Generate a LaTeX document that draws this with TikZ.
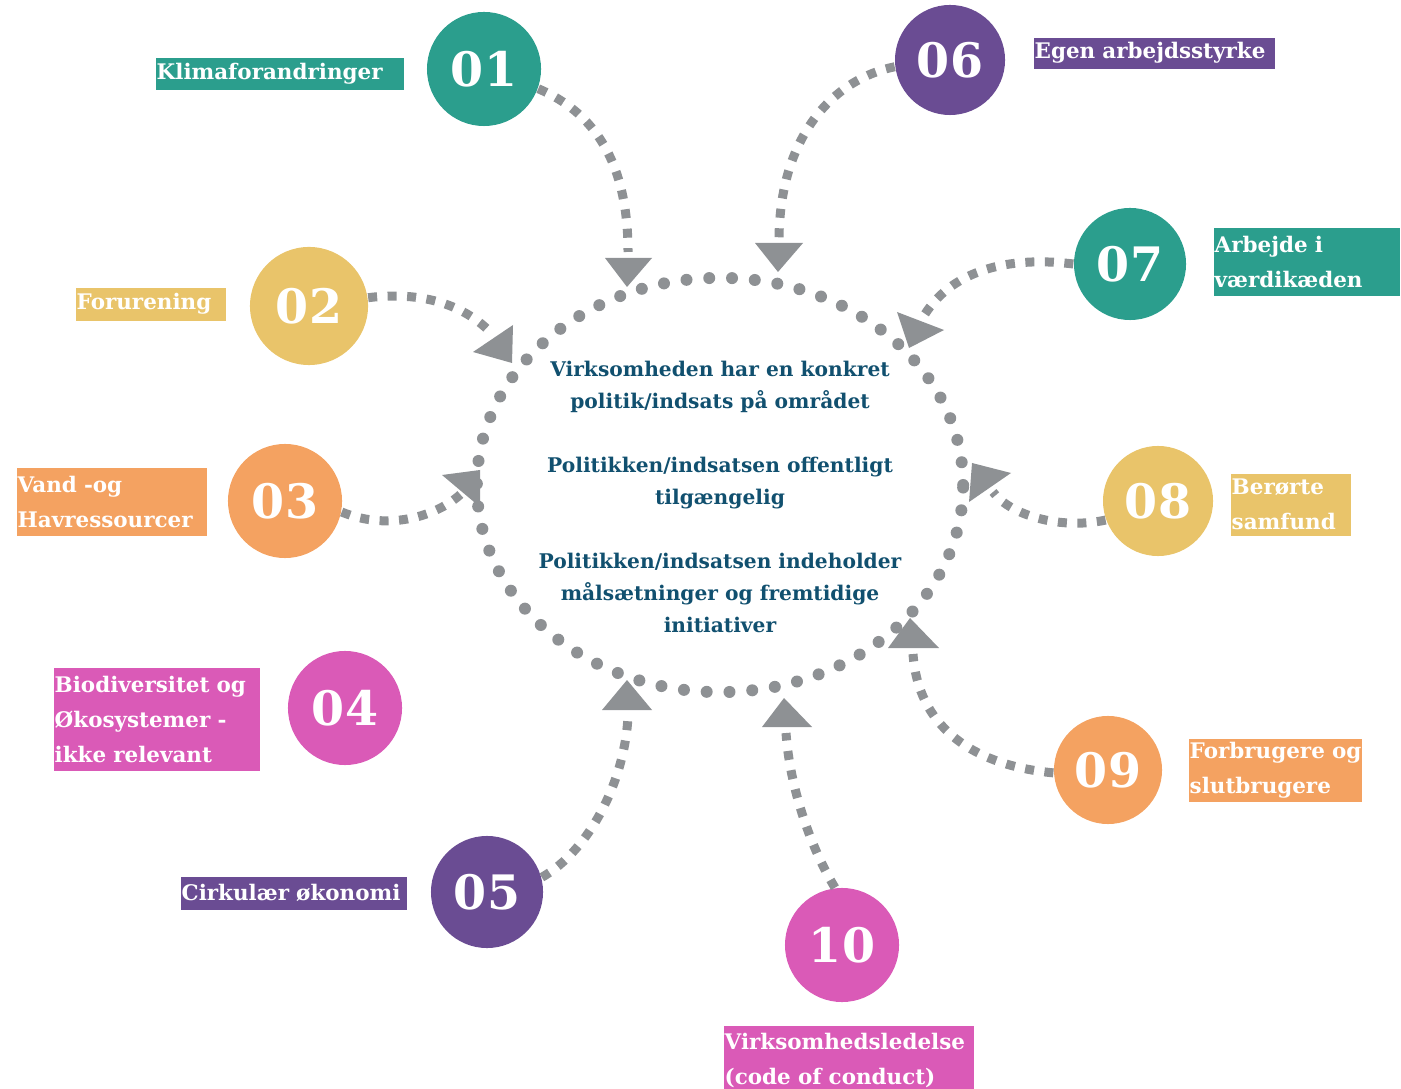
\documentclass[tikz,border=0pt]{standalone}
\usepackage{fontspec}
\setmainfont{DejaVu Serif}
\usetikzlibrary{shapes.geometric}
\definecolor{cteal}{HTML}{2B9E8D}
\definecolor{cyellow}{HTML}{E9C46A}
\definecolor{corange}{HTML}{F4A261}
\definecolor{cpink}{HTML}{DA5AB7}
\definecolor{cpurple}{HTML}{6A4C93}
\definecolor{cgray}{HTML}{8E9194}
\definecolor{cblue}{HTML}{11506F}
\newcommand\lblfont{\fontsize{6.1}{9.9}\selectfont\bfseries}
\newcommand\ctrfont{\fontsize{5.75}{9.1}\selectfont\bfseries}
\newcommand\numfont{\fontsize{13.5}{15}\selectfont\bfseries}
\begin{document}
\begin{tikzpicture}[x=0.01cm,y=-0.01cm,
  num/.style={circle, fill=#1, text=white, inner sep=0pt, font=\numfont},
  lbl/.style={fill=#1, text=white, anchor=north west, align=left, inner xsep=0.01cm, inner ysep=0pt, font=\lblfont},
  conn/.style={draw=cgray, line width=0.09cm, dash pattern=on 0.09cm off 0.105cm},
  tipfill/.style={fill=cgray},
  ringdots/.style={draw=cgray, line width=0.12cm, dash pattern=on 0pt off 0.228cm, line cap=round}]
\useasboundingbox (0,0) rectangle (1401,1089);

% central ring and text
\node[ellipse, ringdots, minimum width=4.86cm, minimum height=4.14cm, inner sep=0pt] (ring) at (720,485) {};
\node[text=cblue, align=center, font=\ctrfont] (ct) at (720,497) {Virksomheden har en konkret\\politik/indsats på området\\[9.1pt]Politikken/indsatsen offentligt\\tilgængelig\\[9.1pt]Politikken/indsatsen indeholder\\målsætninger og fremtidige\\initiativer};

% numbered circles
\node[num=cteal, minimum size=1.14cm] (c1) at (484,69) {01};
\node[num=cyellow, minimum size=1.18cm] (c2) at (309,306) {02};
\node[num=corange, minimum size=1.14cm] (c3) at (285,501) {03};
\node[num=cpink, minimum size=1.14cm] (c4) at (345,708) {04};
\node[num=cpurple, minimum size=1.12cm] (c5) at (487,892) {05};
\node[num=cpurple, minimum size=1.10cm] (c6) at (950,60) {06};
\node[num=cteal, minimum size=1.12cm] (c7) at (1130,264) {07};
\node[num=cyellow, minimum size=1.10cm] (c8) at (1158,501) {08};
\node[num=corange, minimum size=1.08cm] (c9) at (1108,770) {09};
\node[num=cpink, minimum size=1.14cm] (c10) at (842,945) {10};

% labels
\node[lbl=cteal, text width=2.46cm, minimum height=0.32cm] (l1) at (155,57) {\mbox{Klimaforandringer}};
\node[lbl=cyellow, text width=1.48cm, minimum height=0.33cm] (l2) at (75,287) {\mbox{Forurening}};
\node[lbl=corange, text width=1.88cm, minimum height=0.68cm] (l3) at (16,467) {\mbox{Vand -og}\\\mbox{Havressourcer}};
\node[lbl=cpink, text width=2.04cm, minimum height=1.03cm] (l4) at (53,667) {\mbox{Biodiversitet og}\\\mbox{Økosystemer -}\\\mbox{ikke relevant}};
\node[lbl=cpurple, text width=2.24cm, minimum height=0.33cm] (l5) at (180,876) {\mbox{Cirkulær økonomi}};
\node[lbl=cpurple, text width=2.39cm, minimum height=0.31cm] (l6) at (1033,37) {\mbox{Egen arbejdsstyrke}};
\node[lbl=cteal, text width=1.84cm, minimum height=0.68cm] (l7) at (1213,227) {\mbox{Arbejde i}\\\mbox{værdikæden}};
\node[lbl=cyellow, text width=1.18cm, minimum height=0.62cm] (l8) at (1230,473) {\mbox{Berørte}\\\mbox{samfund}};
\node[lbl=corange, text width=1.71cm, minimum height=0.63cm] (l9) at (1188,738) {\mbox{Forbrugere og}\\\mbox{slutbrugere}};
\node[lbl=cpink, text width=2.48cm, minimum height=0.70cm] (l10) at (723,1025) {\mbox{Virksomhedsledelse}\\\mbox{(code of conduct)}};

% connector ends
\coordinate (a1) at (628,252);
\coordinate (a2) at (492,334);
\coordinate (a3) at (463,492);
\coordinate (a5) at (628,716);
\coordinate (a6) at (779,238);
\coordinate (a7) at (925,314);
\coordinate (a8) at (993,492);
\coordinate (a9) at (913,654);
\coordinate (a10) at (786,733);

% connectors
\draw[conn] (c1.-20) .. controls (600,115) and (628,170) .. (a1);
\draw[conn] (c2.8) .. controls (430,290) and (470,310) .. (a2);
\draw[conn] (c3.-11) .. controls (390,532) and (440,515) .. (a3);
\draw[conn] (c5.15) .. controls (590,850) and (625,780) .. (a5);
\draw[conn] (c6.187) .. controls (830,80) and (780,140) .. (a6);
\draw[conn] (c7.180) .. controls (1000,255) and (950,275) .. (a7);
\draw[conn] (c8.200) .. controls (1060,530) and (1010,515) .. (a8);
\draw[conn] (c9.183) .. controls (970,765) and (918,725) .. (a9);
\draw[conn] (c10.97) .. controls (812,850) and (790,790) .. (a10);

% arrow heads
\fill[tipfill] (605,258) -- (652,258) -- (627,287) -- cycle;
\fill[tipfill] (513,325) -- (512,363) -- (473,352) -- cycle;
\fill[tipfill] (480,470) -- (480,507) -- (442,475) -- cycle;
\fill[tipfill] (602,710) -- (652,710) -- (627,680) -- cycle;
\fill[tipfill] (755,243) -- (803,243) -- (778,272) -- cycle;
\fill[tipfill] (897,312) -- (944,330) -- (909,348) -- cycle;
\fill[tipfill] (972,463) -- (1011,473) -- (969,502) -- cycle;
\fill[tipfill] (888,648) -- (939,648) -- (910,618) -- cycle;
\fill[tipfill] (762,727) -- (812,727) -- (784,698) -- cycle;
\end{tikzpicture}
\end{document}
